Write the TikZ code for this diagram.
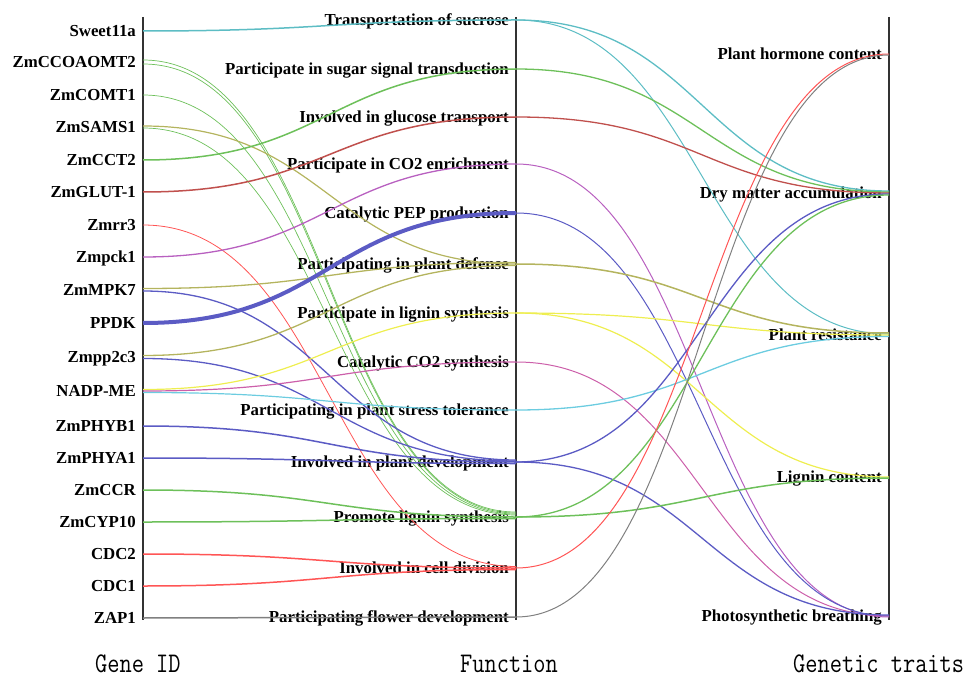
\documentclass[tikz,border=0pt]{standalone}
\usepackage{fontspec}
\setmainfont{Liberation Serif}
\usepackage{graphicx}
\definecolor{tealc}{HTML}{5DBDC4}
\definecolor{grn}{HTML}{6DC05A}
\definecolor{dred}{HTML}{C0504D}
\definecolor{rd}{HTML}{FF5555}
\definecolor{prp}{HTML}{B860C0}
\definecolor{blu}{HTML}{5B5BC4}
\definecolor{olv}{HTML}{B4B45E}
\definecolor{ylw}{HTML}{EEEE50}
\definecolor{mag}{HTML}{CC5FAA}
\definecolor{cyn}{HTML}{6CCCE0}
\definecolor{gry}{HTML}{808080}
\begin{document}
\begin{tikzpicture}[x=1pt,y=-1pt,
    lbl/.style={anchor=east,inner xsep=7pt,inner ysep=0pt,text height=11.5pt,text depth=0.5pt,
      font=\fontsize{16.8}{18}\selectfont\bfseries},
    axis/.style={draw=black!80,line width=1.5pt},
    link/.style={out=0,in=180,distance=186.5pt,line width=1.2pt},
    title/.style={anchor=base west,inner sep=0pt,font=\fontsize{23.7}{26}\selectfont\ttfamily}]
\useasboundingbox (0,0) rectangle (972,679);
% axes
\draw[axis] (143,17) -- (143,620);
\draw[axis] (516,17) -- (516,620);
\draw[axis] (889,17) -- (889,620);
% genes
\node[lbl] (sweet) at (143,31) {Sweet11a};
\node[lbl] (ccoaomt) at (143,62) {ZmCCOAOMT2};
\node[lbl] (comt) at (143,95) {ZmCOMT1};
\node[lbl] (sams) at (143,127) {ZmSAMS1};
\node[lbl] (cct) at (143,160) {ZmCCT2};
\node[lbl] (glut) at (143,192) {ZmGLUT-1};
\node[lbl] (rr) at (143,225) {Zmrr3};
\node[lbl] (pck) at (143,257) {Zmpck1};
\node[lbl] (mpk) at (143,290) {ZmMPK7};
\node[lbl] (ppdk) at (143,323) {PPDK};
\node[lbl] (pp) at (143,357) {Zmpp2c3};
\node[lbl] (nadp) at (143,391) {NADP-ME};
\node[lbl] (phyb) at (143,426) {ZmPHYB1};
\node[lbl] (phya) at (143,458) {ZmPHYA1};
\node[lbl] (ccr) at (143,490) {ZmCCR};
\node[lbl] (cyp) at (143,522) {ZmCYP10};
\node[lbl] (cdcb) at (143,554) {CDC2};
\node[lbl] (cdca) at (143,586) {CDC1};
\node[lbl] (zap) at (143,618) {ZAP1};
% functions
\node[lbl] (suc) at (516,20) {Transportation of sucrose};
\node[lbl] (sug) at (516,69) {Participate in sugar signal transduction};
\node[lbl] (glu) at (516,117) {Involved in glucose transport};
\node[lbl] (enr) at (516,164) {Participate in CO2 enrichment};
\node[lbl] (pep) at (516,213) {Catalytic PEP production};
\node[lbl] (def) at (516,264) {Participating in plant defense};
\node[lbl] (lsyn) at (516,313) {Participate in lignin synthesis};
\node[lbl] (csyn) at (516,362) {Catalytic CO2 synthesis};
\node[lbl] (str) at (516,410) {Participating in plant stress tolerance};
\node[lbl] (dev) at (516,462) {Involved in plant development};
\node[lbl] (plig) at (516,517) {Promote lignin synthesis};
\node[lbl] (div) at (516,568) {Involved in cell division};
\node[lbl] (flo) at (516,617) {Participating flower development};
% traits
\node[lbl] (hor) at (889,54) {Plant hormone content};
\node[lbl] (dry) at (889,193) {Dry matter accumulation};
\node[lbl] (res) at (889,335) {Plant resistance};
\node[lbl] (lig) at (889,477) {Lignin content};
\node[lbl] (pho) at (889,616) {Photosynthetic breathing};
% gene -> function
\draw[link,tealc,line width=1.5pt] (sweet.east) to (suc.east);
\draw[link,grn,line width=0.7pt] ([yshift=2pt]ccoaomt.east) to ([yshift=5pt]plig.east);
\draw[link,grn,line width=0.7pt] ([yshift=-2pt]ccoaomt.east) to ([yshift=4pt]plig.east);
\draw[link,grn,line width=0.7pt] (comt.east) to ([yshift=3pt]plig.east);
\draw[link,olv] ([yshift=1pt]sams.east) to (def.east);
\draw[link,grn,line width=0.7pt] ([yshift=-1pt]sams.east) to ([yshift=2pt]plig.east);
\draw[link,grn,line width=1.5pt] (cct.east) to (sug.east);
\draw[link,dred,line width=1.5pt] (glut.east) to (glu.east);
\draw[link,rd,line width=0.8pt] (rr.east) to ([yshift=1.5pt]div.east);
\draw[link,prp,line width=1.3pt] (pck.east) to (enr.east);
\draw[link,olv,line width=1.3pt] ([yshift=1.5pt]mpk.east) to ([yshift=1.5pt]def.east);
\draw[link,blu,line width=1.3pt] ([yshift=-1pt]mpk.east) to ([yshift=2pt]dev.east);
\draw[link,blu,line width=4pt] (ppdk.east) to (pep.east);
\draw[link,olv,line width=1.3pt] ([yshift=1.5pt]pp.east) to ([yshift=-1.5pt]def.east);
\draw[link,blu,line width=1.3pt] ([yshift=-1.5pt]pp.east) to ([yshift=1pt]dev.east);
\draw[link,ylw] ([yshift=1.5pt]nadp.east) to (lsyn.east);
\draw[link,mag] (nadp.east) to (csyn.east);
\draw[link,cyn] ([yshift=-1.5pt]nadp.east) to (str.east);
\draw[link,blu,line width=1.5pt] (phyb.east) to (dev.east);
\draw[link,blu,line width=1.5pt] (phya.east) to ([yshift=-1.5pt]dev.east);
\draw[link,grn,line width=1.5pt] (ccr.east) to (plig.east);
\draw[link,grn,line width=1.5pt] (cyp.east) to ([yshift=-1.5pt]plig.east);
\draw[link,rd,line width=1.5pt] (cdcb.east) to (div.east);
\draw[link,rd,line width=1.5pt] (cdca.east) to ([yshift=-1.5pt]div.east);
\draw[link,gry,line width=1.5pt] (zap.east) to (flo.east);
% function -> trait
\draw[link,tealc,line width=1.3pt] (suc.east) to ([yshift=2pt]dry.east);
\draw[link,tealc,line width=1pt] (suc.east) to ([yshift=1pt]res.east);
\draw[link,grn,line width=1.3pt] (sug.east) to ([yshift=1pt]dry.east);
\draw[link,dred,line width=1.3pt] (glu.east) to (dry.east);
\draw[link,prp,line width=1pt] (enr.east) to ([yshift=-1pt]pho.east);
\draw[link,blu,line width=1pt] (pep.east) to (pho.east);
\draw[link,olv,line width=1.5pt] (def.east) to ([yshift=2pt]res.east);
\draw[link,ylw] (lsyn.east) to (res.east);
\draw[link,ylw] (lsyn.east) to (lig.east);
\draw[link,mag,line width=1pt] (csyn.east) to (pho.east);
\draw[link,cyn,line width=1.3pt] (str.east) to ([yshift=-1.5pt]res.east);
\draw[link,blu,line width=1.3pt] (dev.east) to ([yshift=-1pt]dry.east);
\draw[link,blu,line width=1.3pt] (dev.east) to ([yshift=1pt]pho.east);
\draw[link,grn,line width=1.3pt] (plig.east) to ([yshift=-2pt]dry.east);
\draw[link,grn,line width=1.5pt] (plig.east) to ([yshift=-1pt]lig.east);
\draw[link,rd,line width=1pt] (div.east) to (hor.east);
\draw[link,gry,line width=1pt] (flo.east) to ([yshift=-1pt]hor.east);
% column titles
\node[title] (gid) at (95,672) {\scalebox{1}[1.2]{Gene ID}};
\node[title] (fun) at (460,672) {\scalebox{1}[1.2]{Function}};
\node[title] (gtr) at (793,672) {\scalebox{1}[1.2]{Genetic traits}};
\end{tikzpicture}
\end{document}
